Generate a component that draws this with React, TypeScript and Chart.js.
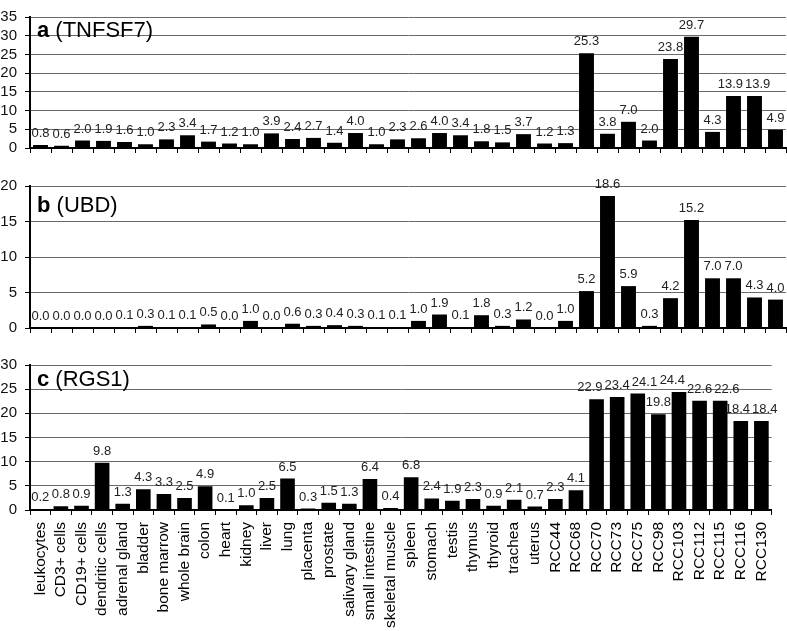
import React, { useEffect, useRef } from 'react';
import { Chart, registerables } from 'chart.js';

Chart.register(...registerables);

const FONT = "'Liberation Sans', Arial, sans-serif";

const categories = [
  'leukocytes', 'CD3+ cells', 'CD19+ cells', 'dendritic cells', 'adrenal gland', 'bladder',
  'bone marrow', 'whole brain', 'colon', 'heart', 'kidney', 'liver', 'lung', 'placenta',
  'prostate', 'salivary gland', 'small intestine', 'skeletal muscle', 'spleen', 'stomach',
  'testis', 'thymus', 'thyroid', 'trachea', 'uterus', 'RCC44', 'RCC68', 'RCC70', 'RCC73',
  'RCC75', 'RCC98', 'RCC103', 'RCC112', 'RCC115', 'RCC116', 'RCC130',
];

const tnfsf7 = [
  0.8, 0.6, 2.0, 1.9, 1.6, 1.0, 2.3, 3.4, 1.7, 1.2, 1.0, 3.9, 2.4, 2.7, 1.4, 4.0, 1.0, 2.3,
  2.6, 4.0, 3.4, 1.8, 1.5, 3.7, 1.2, 1.3, 25.3, 3.8, 7.0, 2.0, 23.8, 29.7, 4.3, 13.9, 13.9, 4.9,
];

const ubd = [
  0.0, 0.0, 0.0, 0.0, 0.1, 0.3, 0.1, 0.1, 0.5, 0.0, 1.0, 0.0, 0.6, 0.3, 0.4, 0.3, 0.1, 0.1,
  1.0, 1.9, 0.1, 1.8, 0.3, 1.2, 0.0, 1.0, 5.2, 18.6, 5.9, 0.3, 4.2, 15.2, 7.0, 7.0, 4.3, 4.0,
];

const rgs1 = [
  0.2, 0.8, 0.9, 9.8, 1.3, 4.3, 3.3, 2.5, 4.9, 0.1, 1.0, 2.5, 6.5, 0.3, 1.5, 1.3, 6.4, 0.4,
  6.8, 2.4, 1.9, 2.3, 0.9, 2.1, 0.7, 2.3, 4.1, 22.9, 23.4, 24.1, 19.8, 24.4, 22.6, 22.6, 18.4, 18.4,
];

const yMaxA = 35;
const yMaxB = 20;
const yMaxC = 30;
const yStep = 5;

const valueLabels = {
  id: 'valueLabels',
  afterDatasetsDraw(chart: any) {
    const ctx = chart.ctx;
    const meta = chart.getDatasetMeta(0);
    const data = chart.data.datasets[0].data as number[];
    ctx.save();
    ctx.font = `13px ${FONT}`;
    ctx.fillStyle = '#222';
    ctx.textAlign = 'center';
    ctx.textBaseline = 'alphabetic';
    const H = 10;
    const GAP = 2;
    const items = meta.data.map((el: any, i: number) => {
      const text = Number(data[i]).toFixed(1);
      return { text, x: el.x, y: el.y - 8, w: ctx.measureText(text).width };
    });
    // simple horizontal de-overlap of neighbouring labels
    for (let pass = 0; pass < 30; pass++) {
      for (let i = 0; i < items.length - 1; i++) {
        const a = items[i];
        const b = items[i + 1];
        if (Math.abs(a.y - b.y) >= H) continue;
        const need = (a.w + b.w) / 2 + GAP;
        const have = b.x - a.x;
        if (have < need) {
          const d = (need - have) / 2;
          a.x -= d;
          b.x += d;
        }
      }
      for (const it of items) {
        const maxX = chart.width - it.w / 2;
        if (it.x > maxX) it.x = maxX;
      }
    }
    items.forEach((it: any) => ctx.fillText(it.text, it.x, it.y));
    ctx.restore();
  },
};

const panelTitle = {
  id: 'panelTitle',
  afterDraw(chart: any, _args: any, opts: any) {
    const { ctx, chartArea } = chart;
    ctx.save();
    ctx.fillStyle = '#000';
    ctx.textAlign = 'left';
    ctx.textBaseline = 'alphabetic';
    const x = chartArea.left + 7;
    const y = chartArea.top + opts.dy;
    ctx.font = `bold 22px ${FONT}`;
    ctx.fillText(opts.letter, x, y);
    const w = ctx.measureText(opts.letter).width;
    ctx.font = `22px ${FONT}`;
    ctx.fillText(' (' + opts.gene + ')', x + w, y);
    ctx.restore();
  },
};

type PanelProps = {
  top: number;
  height: number;
  padTop: number;
  xHeight: number;
  data: number[];
  max: number;
  letter: string;
  gene: string;
  dy: number;
  showLabels: boolean;
};

function Panel(p: PanelProps) {
  const ref = useRef<HTMLCanvasElement | null>(null);
  useEffect(() => {
    if (!ref.current) return;
    const chart = new Chart(ref.current, {
      type: 'bar',
      data: {
        labels: categories,
        datasets: [
          {
            data: p.data,
            backgroundColor: '#000',
            borderWidth: 0,
            barPercentage: 0.71,
            categoryPercentage: 1,
          },
        ],
      },
      options: {
        animation: false,
        responsive: false,
        devicePixelRatio: 1,
        layout: { padding: { top: p.padTop, right: 1, left: 0, bottom: 0 } },
        plugins: {
          legend: { display: false },
          tooltip: { enabled: false },
          panelTitle: { letter: p.letter, gene: p.gene, dy: p.dy },
        } as any,
        scales: {
          x: {
            grid: {
              display: true,
              drawOnChartArea: false,
              drawTicks: true,
              tickLength: 5,
              color: '#000',
              offset: true,
            },
            border: { color: '#000', width: 2 },
            ticks: {
              display: p.showLabels,
              autoSkip: false,
              maxRotation: 90,
              minRotation: 90,
              font: { size: 15.5, family: FONT },
              color: '#000',
              padding: 7,
            },
            afterFit: (s: any) => {
              s.height = p.xHeight;
            },
          },
          y: {
            min: 0,
            max: p.max,
            ticks: {
              stepSize: yStep,
              autoSkip: false,
              font: { size: 15, family: FONT },
              color: '#111',
              padding: 8,
            },
            grid: {
              color: '#6a6a6a',
              lineWidth: 1,
              drawTicks: true,
              tickLength: 5,
              tickColor: '#000',
            },
            border: { color: '#000', width: 2 },
            afterFit: (s: any) => {
              s.width = 30;
            },
          },
        },
      },
      plugins: [valueLabels, panelTitle],
    });
    return () => chart.destroy();
  }, []);
  return (
    <canvas
      ref={ref}
      width={787}
      height={p.height}
      style={{ position: 'absolute', left: 0, top: p.top, width: 787, height: p.height, display: 'block' }}
    />
  );
}

export default function App() {
  return (
    <div style={{ position: 'absolute', left: 0, top: 0, width: 787, height: 631, background: '#fff', overflow: 'hidden' }}>
      <Panel top={0} height={165} padTop={6} xHeight={10} data={tnfsf7} max={yMaxA} letter="a" gene="TNFSF7" dy={20} showLabels={false} />
      <Panel top={165} height={180} padTop={21} xHeight={10} data={ubd} max={yMaxB} letter="b" gene="UBD" dy={26} showLabels={false} />
      <Panel top={345} height={286} padTop={20} xHeight={121} data={rgs1} max={yMaxC} letter="c" gene="RGS1" dy={21} showLabels={true} />
    </div>
  );
}
